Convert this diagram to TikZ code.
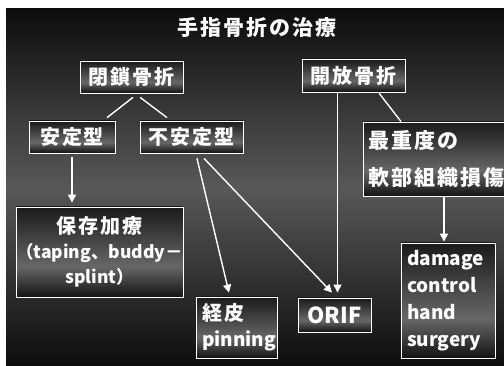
\documentclass[tikz,border=0pt]{standalone}
\usepackage{fontspec}
\newfontfamily\jp{Noto Sans CJK JP}
\newfontfamily\jpw{Noto Sans CJK JP}[LetterSpace=10]
\usetikzlibrary{arrows.meta,calc}
\definecolor{bgdark}{HTML}{0D0D0D}
\definecolor{bgmid}{HTML}{585858}
\definecolor{boxtop}{HTML}{1A1A1A}
\definecolor{boxmid}{HTML}{676767}
\definecolor{boxbot}{HTML}{131313}
\pgfdeclareverticalshading{boxshade}{100bp}{color(0bp)=(boxbot); color(25bp)=(boxbot); color(42bp)=(boxmid); color(75bp)=(boxtop); color(100bp)=(boxtop)}
\begin{document}
\begin{tikzpicture}[x=1pt,y=-1pt,
  box/.style={draw=white, line width=0.9pt, shading=boxshade, inner sep=0pt, text=white},
  cjk/.style={font=\jpw\bfseries\fontsize{20}{25}\selectfont},
  conn/.style={draw=white, line width=1.4pt},
  arr/.style={conn, -{Triangle[width=8pt,length=8pt]}}]
\useasboundingbox (0,0) rectangle (504,366);
\clip (0,0) rectangle (504,366);
\fill[white] (0,0) rectangle (504,366);
\shade[top color=bgdark, bottom color=bgdark, middle color=bgmid] (6,9) rectangle (504,366);

\node[text=white, font=\jpw\bfseries\fontsize{21}{25}\selectfont] (title) at (257,28) {手指骨折の治療};

\node[box, cjk, minimum width=103pt, minimum height=32pt] (closed) at (131.5,77) {閉鎖骨折};
\node[box, cjk, minimum width=103pt, minimum height=33pt] (open) at (353.5,75.5) {開放骨折};
\node[box, cjk, minimum width=86pt, minimum height=32pt] (stable) at (72,137) {安定型};
\node[box, cjk, minimum width=103pt, minimum height=32pt] (unstable) at (191.5,137) {不安定型};
\node[box, minimum width=167pt, minimum height=90pt, align=center,
  font=\jp\bfseries\fontsize{17.5}{25}\selectfont] (conserv) at (99.5,252)
  {{\jpw\fontsize{20}{25}\selectfont 保存加療}\\
   （taping、buddy－\\
   splint）};
\node[box, minimum width=149pt, minimum height=74pt, inner xsep=5pt, text width=139pt, align=left,
  font=\jpw\bfseries\fontsize{21}{37}\selectfont] (severe) at (437.5,159) {最重度の\\軟部組織損傷};
\node[box, minimum width=81pt, minimum height=61pt, inner xsep=6pt, text width=69pt, align=left,
  font=\jp\bfseries\fontsize{19}{26}\selectfont] (perc) at (236.5,327.5)
  {{\jpw\fontsize{20}{26}\selectfont 経皮}\\
   pinning};
\node[box, minimum width=73pt, minimum height=34pt, font=\jp\bfseries\fontsize{22}{26}\selectfont] (orif) at (334.5,315) {ORIF};
\node[box, minimum width=94pt, minimum height=115pt, inner xsep=6pt, text width=82pt, align=left,
  font=\jp\bfseries\fontsize{19}{27}\selectfont] (damage) at (448,300.5) {damage\\control\\hand\\surgery};

\draw[conn, shorten <=6.4pt, shorten >=4.8pt] ([xshift=6.5pt]closed.south) -- ([xshift=31.3pt]stable.north);
\draw[conn, shorten <=6.5pt, shorten >=4.9pt] ([xshift=3.4pt]closed.south) -- ([xshift=-20.6pt]unstable.north);
\draw[arr, shorten <=4pt, shorten >=4pt] (stable.south) -- ([xshift=-27.5pt]conserv.north);
\draw[arr, shorten <=5pt, shorten >=4pt] ([xshift=4.3pt]unstable.south) -- ([xshift=-6.6pt]perc.north);
\draw[arr, shorten <=6.9pt, shorten >=6.9pt] ([xshift=7.8pt]unstable.south) -- ([xshift=2.2pt]orif.north);
\draw[arr, shorten <=1pt, shorten >=5pt] ([xshift=-16pt]open.south) -- ([xshift=3pt]orif.north);
\draw[conn, shorten <=1pt] ([xshift=25pt]open.south) -- ([xshift=-36.5pt]severe.north);
\draw[arr, shorten >=1pt] ([xshift=6.5pt]severe.south) -- ([xshift=-4pt]damage.north);
\end{tikzpicture}
\end{document}
